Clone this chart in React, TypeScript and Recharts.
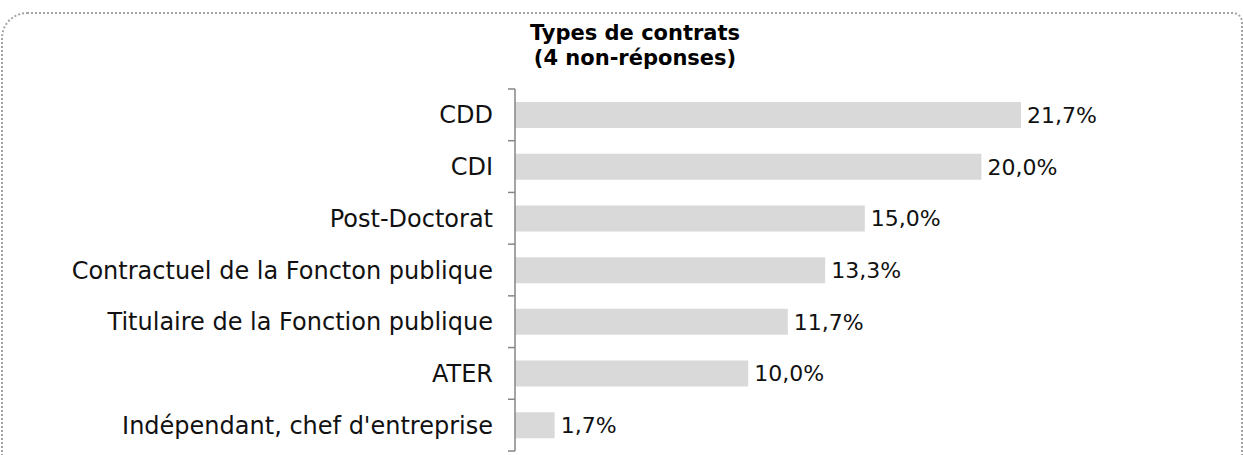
import React from 'react';
import { BarChart, Bar, XAxis, YAxis, LabelList } from 'recharts';

const categories = [
  'CDD',
  'CDI',
  'Post-Doctorat',
  'Contractuel de la Foncton publique',
  'Titulaire de la Fonction publique',
  'ATER',
  "Indépendant, chef d'entreprise",
];
const shares = [21.7, 20.0, 15.0, 13.3, 11.7, 10.0, 1.7];
const titleLines = ['Types de contrats', '(4 non-réponses)'];

const W = 1243;
const H = 455;
const MARGIN = { top: 89, right: 145, bottom: 4, left: 0 };
const Y_AXIS_W = 515;
const AXIS_X = MARGIN.left + Y_AXIS_W;
const BAND = (H - MARGIN.top - MARGIN.bottom) / categories.length;
const FONT = '"DejaVu Sans", sans-serif';
const AXIS_COLOR = '#868686';

const data = categories.map((name, i) => ({ name, value: shares[i] }));

const fmt = (v: number) => v.toFixed(1).replace('.', ',') + '%';

// Excel-style axis: ticks sit between categories, label at band centre
const CategoryTick = (props: any) => {
  const { x, y, payload, index } = props;
  const last = index === categories.length - 1;
  return (
    <g>
      <line x1={AXIS_X - 7} x2={AXIS_X} y1={y - BAND / 2} y2={y - BAND / 2} stroke={AXIS_COLOR} strokeWidth={1.5} />
      {last && (
        <line x1={AXIS_X - 7} x2={AXIS_X} y1={y + BAND / 2} y2={y + BAND / 2} stroke={AXIS_COLOR} strokeWidth={1.5} />
      )}
      <text x={x} y={y} dy="0.36em" textAnchor="end" fill="#111" fontSize={24} fontFamily={FONT}>
        {payload.value}
      </text>
    </g>
  );
};

const App: React.FC = () => {
  return (
    <div style={{ position: 'absolute', left: 0, top: 0, width: W, height: H, overflow: 'hidden', background: '#fff' }}>
      <div
        style={{
          position: 'absolute',
          left: 1,
          top: 12,
          width: 1238,
          height: 500,
          border: '2px dotted #a3a3a3',
          borderRadius: '26px 10px 0 0',
        }}
      />
      <div
        style={{
          position: 'absolute',
          left: 0,
          top: 21,
          width: 1270,
          textAlign: 'center',
          fontFamily: FONT,
          fontWeight: 'bold',
          fontSize: 21,
          lineHeight: '25px',
          color: '#000',
        }}
      >
        {titleLines.map((t) => (
          <div key={t}>{t}</div>
        ))}
      </div>
      <div style={{ position: 'absolute', left: 0, top: 0 }}>
        <BarChart width={W} height={H} data={data} layout="vertical" margin={MARGIN}>
          <XAxis type="number" domain={[0, 25]} hide />
          <YAxis
            type="category"
            dataKey="name"
            width={Y_AXIS_W}
            axisLine={{ stroke: AXIS_COLOR, strokeWidth: 1.5 }}
            tickLine={false}
            tickSize={7}
            tickMargin={15}
            interval={0}
            tick={<CategoryTick />}
          />
          <Bar dataKey="value" fill="#d9d9d9" barSize={26} isAnimationActive={false}>
            <LabelList
              dataKey="value"
              position="right"
              offset={6}
              formatter={(v: any) => fmt(Number(v))}
              fill="#111"
              fontSize={22}
              fontFamily={FONT}
            />
          </Bar>
        </BarChart>
      </div>
    </div>
  );
};

export default App;
